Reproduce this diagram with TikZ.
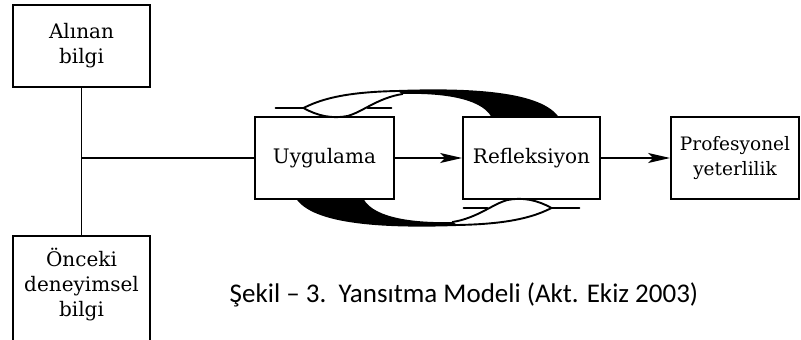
\documentclass[tikz,border=0pt]{standalone}
\usepackage{fontspec}
\setmainfont{DejaVu Serif}
\newfontfamily\capfont{Carlito}
\usetikzlibrary{arrows.meta,calc}
\begin{document}
\begin{tikzpicture}[x=1pt,y=-1pt,
  boxfont/.style={font=\fontsize{20}{25}\selectfont},
  box/.style={draw=black, line width=1.8pt, rectangle, minimum height=82pt, inner sep=0pt, align=center, boxfont},
  conn/.style={line width=1.5pt},
  arr/.style={line width=1.5pt, -{Stealth[length=22pt,width=10pt,inset=5pt]}},
  loopline/.style={line width=1.9pt, line cap=round, line join=round}
]
\useasboundingbox (0,0) rectangle (801,340);
\clip (0,0) rectangle (801,340);
\fill[white] (0,0) rectangle (801,340);

\node[box, minimum width=137pt] (a) at (81.5,46) {Alınan\\bilgi};
\node[box, minimum width=137pt, minimum height=120pt, anchor=north] (o) at (81.5,235) {};
\node[align=center, boxfont, inner sep=0pt, anchor=north] (otxt) at (81.5,248) {Önceki\\deneyimsel\\bilgi};
\node[box, minimum width=139pt] (u) at (324.5,158) {Uygulama};
\node[box, minimum width=137pt] (r) at (531.5,158) {Refleksiyon};
\node[box, minimum width=128pt, font=\fontsize{18.5}{25}\selectfont] (p) at (735,158) {Profesyonel\\yeterlilik};

\draw[conn] (a.south) -- (o.north);
\coordinate (j) at (a.south |- u.west);
\draw[conn] (j) -- (u.west);
\draw[arr] (u.east) -- (r.west);
\draw[arr] (r.east) -- (p.west);

\coordinate (m) at ($(u.south west)!0.5!(r.north east)$);
\foreach \ang in {0,180}{
\begin{scope}[shift={(m)}, rotate=\ang]
  \fill[black] (-30,-67) .. controls (30,-69) and (110,-68) .. (130,-41)
     -- (64,-41) .. controls (53,-61) and (10,-65) .. (-25,-64) -- cycle;
  \draw[loopline] (-152,-50) -- (-124,-50) .. controls (-108,-58) and (-85,-66) .. (-30,-67)
     .. controls (30,-69) and (110,-68) .. (130,-41);
  \draw[loopline] (-124,-50) .. controls (-110,-42) and (-95,-39) .. (-80,-42)
     .. controls (-65,-46) and (-50,-60) .. (-25,-64);
  \draw[loopline] (-60,-50) -- (-36,-50);
\end{scope}
}

\node[font=\capfont\fontsize{27}{30}\selectfont, inner sep=0pt] (cap) at (464,295) {Şekil – 3.\ \ Yansıtma Modeli (Akt. Ekiz 2003)};
\end{tikzpicture}
\end{document}
